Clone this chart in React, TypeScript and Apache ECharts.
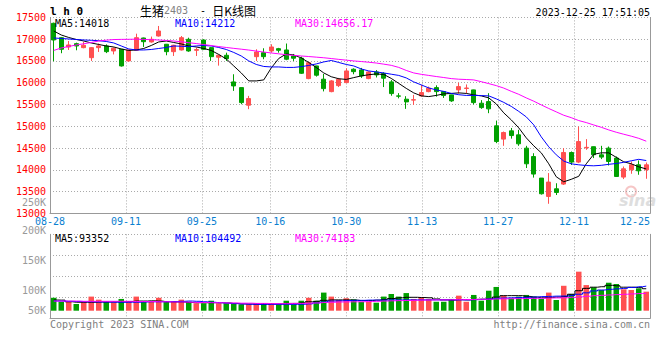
import React, { useEffect, useRef } from 'react';
import * as echarts from 'echarts';

const dates = [
  '08-28','08-29','08-30','08-31','09-01','09-04','09-05','09-06','09-07','09-08',
  '09-11','09-12','09-13','09-14','09-15','09-18','09-19','09-20','09-21','09-22',
  '09-25','09-26','09-27','09-28','10-09','10-10','10-11','10-12','10-13',
  '10-16','10-17','10-18','10-19','10-20','10-23','10-24','10-25','10-26','10-27',
  '10-30','10-31','11-01','11-02','11-03','11-06','11-07','11-08','11-09','11-10',
  '11-13','11-14','11-15','11-16','11-17','11-20','11-21','11-22','11-23','11-24',
  '11-27','11-28','11-29','11-30','12-01','12-04','12-05','12-06','12-07','12-08',
  '12-11','12-12','12-13','12-14','12-15','12-18','12-19','12-20','12-21','12-22',
  '12-25'
];

const openP = [
  17364,17034,16821,16897,16805,16575,16805,16844,16729,16768,
  16500,16745,17027,16936,17073,16883,16713,16752,16997,16745,
  16981,16805,16585,16630,16018,15887,15483,16598,16690,16729,
  16782,16752,16614,16562,16094,16385,16080,15795,15933,16002,
  16309,16293,16094,16247,16210,16018,15697,15621,15600,15697,
  15795,15887,15795,15720,15835,15868,15835,15529,15566,15009,
  14704,14894,14802,14497,14304,13809,13387,13563,13671,14396,
  14176,14505,14530,14343,14497,14268,13832,13999,14114,13999
];
const closeP = [
  16981,16768,16867,16844,16860,16805,16844,16713,16791,16385,
  16752,17034,16942,16997,17188,16713,16860,17034,16729,16760,
  16768,16598,16630,16552,15926,15543,15635,16706,16598,16821,
  16745,16539,16562,16217,16461,16172,15864,16041,16080,16270,
  16254,16156,16247,16179,16103,15750,15690,15559,15610,15773,
  15874,15795,15705,15582,15910,15878,15543,15428,15399,14648,
  14855,14786,14596,14137,13901,13449,13717,13479,14396,14176,
  14648,14515,14345,14291,14190,13846,14022,14114,13976,14114
];
const lowP = [
  16493,16677,16752,16745,16790,16500,16706,16680,16650,16370,
  16480,16740,16821,16920,17060,16630,16614,16740,16710,16614,
  16750,16500,16392,16500,15812,15506,15392,16500,16539,16690,
  16690,16517,16500,16200,16080,16140,15800,15780,15900,15990,
  16194,16110,16080,16120,15900,15700,15640,15399,15490,15681,
  15780,15680,15650,15560,15750,15760,15500,15400,15300,14611,
  14550,14715,14550,14040,13820,13430,13219,13420,13650,14110,
  14153,14458,14268,14245,14098,13840,13786,13908,13885,13793
];
const highP = [
  17380,17050,16958,16920,16940,16820,16900,16880,16810,16775,
  16760,17126,17035,17060,17303,16890,16870,17073,17034,16805,
  16995,16820,16640,16690,16194,15890,15697,16768,16791,16883,
  16800,16900,16660,16600,16480,16390,16200,16060,16110,16330,
  16330,16340,16260,16290,16240,16060,15760,15690,15720,15950,
  15910,15940,15800,15725,16000,15960,15840,15600,15759,15130,
  14878,14960,14917,14550,14380,13810,13924,13690,14497,14420,
  14993,14704,14534,14550,14534,14305,14075,14190,14213,14167
];

const ma5 = [
  17188,17096,17039,16993,16958,16913,16878,16844,16821,16775,
  16741,16752,16786,16855,16936,16958,16924,16890,16844,16821,
  16786,16741,16649,16546,16385,16224,16041,16041,16064,16339,
  16557,16660,16637,16569,16465,16350,16224,16137,16091,16075,
  16117,16156,16183,16201,16190,16098,15984,15869,15766,15697,
  15681,15708,15743,15754,15766,15754,15720,15697,15651,15513,
  15307,15146,14963,14733,14550,14389,14137,13839,13724,13781,
  13850,14137,14355,14389,14389,14286,14183,14137,14068,14018
];
const ma10 = [
  17027,17016,17004,16993,16981,16974,16965,16947,16913,16844,
  16775,16752,16752,16763,16786,16809,16844,16837,16828,16844,
  16855,16844,16809,16763,16695,16614,16500,16419,16373,16362,
  16362,16351,16351,16369,16396,16431,16477,16511,16465,16419,
  16385,16316,16270,16247,16224,16195,16167,16110,16018,15949,
  15880,15834,15800,15754,15724,15708,15708,15704,15697,15628,
  15548,15456,15341,15215,15031,14756,14527,14343,14199,14137,
  14114,14098,14091,14102,14125,14144,14171,14206,14240,14212
];
const ma30 = [
  16741,16798,16832,16867,16894,16924,16958,16977,16991,16995,
  16997,17000,16995,16988,16981,16970,16958,16940,16919,16899,
  16876,16853,16830,16809,16789,16770,16750,16727,16704,16683,
  16663,16642,16628,16614,16601,16587,16573,16555,16536,16518,
  16500,16486,16470,16452,16426,16399,16351,16282,16224,16192,
  16167,16142,16119,16094,16080,16073,16064,16023,15979,15933,
  15876,15802,15733,15651,15575,15490,15408,15330,15252,15197,
  15130,15084,15029,14976,14915,14862,14816,14772,14722,14656.17
];

const volume = [
  55000,38000,38000,28500,38000,60000,47000,38000,36000,50000,
  38000,60000,38000,38000,55000,38000,38000,47000,38000,31500,
  31500,42500,31500,31500,31500,27000,27000,31500,31500,31500,
  27000,42500,27000,42500,55000,42500,77000,60000,45500,53000,
  48500,38000,38000,34000,60000,71000,60000,75000,50000,57000,
  50000,38000,38000,50000,64000,38000,67000,42500,85000,101000,
  64000,53000,60000,67000,60000,50000,77000,45500,106000,71000,
  166000,109000,99500,88000,119000,113500,91000,88000,95000,81000
];
const volMa5 = [
  45500,45000,38000,36000,36000,36000,37000,37000,38000,38000,
  39000,41000,41000,42000,41000,38000,37000,37000,35000,34000,
  34000,34000,34000,33000,31000,29000,28500,28500,28500,29000,
  29000,31000,31000,33000,38000,40000,44000,46000,46000,46000,
  45000,43000,43000,45000,48000,52000,55000,57000,57000,56000,
  55000,50000,46000,45000,47000,46000,48000,49000,50000,58000,
  64000,64000,64000,61000,58000,55000,56000,58000,60000,70000,
  85000,95000,100000,102000,108000,106000,100000,100000,98000,93352
];
const volMa10 = [
  41000,41000,40000,39000,38000,38000,37000,37000,36000,36000,
  36000,36000,37000,38000,38000,38000,39000,40000,41000,40000,
  38000,36000,34000,32000,30000,29000,27500,27000,27000,27000,
  27000,27000,27000,27500,29000,33000,37000,41000,42000,43000,
  44000,44000,45000,45000,45000,46000,46000,46000,46000,46000,
  46000,46000,46000,46000,46000,46000,47000,48000,50000,53000,
  54000,55000,56000,57000,58000,60000,61000,62000,62500,65000,
  70000,76000,84000,88000,91000,93000,95000,99000,102000,104492
];
const volMa30 = [
  41000,41000,41000,41000,40000,40000,40000,40000,40000,40000,
  40000,39000,39000,39000,38000,38000,37000,37000,36000,35000,
  35000,34000,34000,33000,33000,32000,32000,31000,31000,30000,
  30000,30000,31000,31000,32000,33000,35000,36000,37000,37500,
  38000,38000,39000,40000,41000,42000,43000,43500,44000,45000,
  45500,46000,46000,46500,47000,47500,48000,48500,49000,50000,
  50500,51000,51500,52000,52500,53000,54000,54500,55000,57000,
  59000,61500,64000,65500,67000,68500,70000,71500,73000,74183
];

const xLabelDates = ['08-28','09-11','09-25','10-16','10-30','11-13','11-27','12-11','12-25'];
const priceMin = 13000;
const priceMax = 17500;
const priceStep = 500;
const volTickValues = [50000, 100000, 150000, 200000, 250000];
const volTickLabels = ['50K', '100K', '150K', '200K', '250K'];

const RED = '#ff5050';
const GREEN = '#00a000';
const GRIDC = '#aaaaaa';
const FRAME = '#999999';
const DATEC = '#0a80d0';
const MONO = '"DejaVu Sans Mono", monospace';
const CJK = '"Noto Sans CJK SC", sans-serif';
const DOT: number[] = [1, 2];

const last = (a: number[]) => a[a.length - 1];

function txt(x: number, y: number, text: string, fill: string, extra: any = {}) {
  return {
    type: 'text', x, y, z: 10,
    style: {
      text, fill, fontSize: 10, fontFamily: MONO,
      align: 'left', textAlign: 'left', verticalAlign: 'middle', textVerticalAlign: 'middle',
      ...extra,
    },
  };
}

export default function App() {
  const ref = useRef<HTMLDivElement>(null);
  useEffect(() => {
    if (!ref.current) return;
    const chart = echarts.init(ref.current, null, { renderer: 'svg' });
    const labelIdx = xLabelDates.map((d) => dates.indexOf(d));
    const splitIdx = labelIdx.filter((i) => i > 0 && i < dates.length - 1);
    const topVolLabel = volTickValues.length - 1;

    const option: any = {
      animation: false,
      grid: [
        { left: 50, top: 17.4, width: 600, height: 195.9, outerBoundsMode: 'none' },
        { left: 50, top: 234.3, width: 600, height: 76.4, outerBoundsMode: 'none' },
        { left: 50, top: 234.3, width: 600, height: 84, outerBoundsMode: 'none' },
        { left: 50, top: 200.7, width: 600, height: 150, outerBoundsMode: 'none' },
      ],
      xAxis: [
        { gridIndex: 0, type: 'category', data: dates, boundaryGap: true, show: false, position: 'top' },
        {
          gridIndex: 0, type: 'category', data: dates, boundaryGap: false, position: 'bottom',
          axisLine: { show: true, lineStyle: { color: FRAME, width: 1 } },
          axisTick: { show: false },
          axisLabel: {
            show: true,
            interval: (i: number) => labelIdx.includes(i),
            color: DATEC, fontSize: 10, fontFamily: MONO, margin: 5, lineHeight: 7,
            alignMinLabel: 'center', alignMaxLabel: 'right',
          },
          splitLine: {
            show: true,
            interval: (i: number) => splitIdx.includes(i),
            lineStyle: { color: GRIDC, type: DOT, width: 1 },
          },
        },
        { gridIndex: 1, type: 'category', data: dates, boundaryGap: true, show: false },
        {
          gridIndex: 2, type: 'category', data: dates, boundaryGap: false, position: 'bottom',
          axisLine: { show: true, lineStyle: { color: FRAME, width: 1 } },
          axisTick: { show: false },
          axisLabel: { show: false },
          splitLine: {
            show: true,
            interval: (i: number) => splitIdx.includes(i),
            lineStyle: { color: GRIDC, type: DOT, width: 1 },
          },
        },
        { gridIndex: 3, type: 'category', data: dates, show: false },
      ],
      yAxis: [
        {
          gridIndex: 0, type: 'value', position: 'left', min: priceMin, max: priceMax, interval: priceStep,
          axisLine: { show: true, lineStyle: { color: FRAME, width: 1 } },
          axisTick: { show: false },
          axisLabel: {
            color: '#ff0000', fontSize: 10, fontFamily: MONO, margin: 4,
            lineHeight: 7, padding: [0, 0, 2, 0],
            formatter: (v: number) => String(v),
          },
          splitLine: { show: true, lineStyle: { color: GRIDC, type: DOT, width: 1 } },
        },
        {
          gridIndex: 0, type: 'value', position: 'right', min: priceMin, max: priceMax, interval: priceStep,
          axisLine: { show: true, lineStyle: { color: FRAME, width: 1 } },
          axisTick: { show: false }, axisLabel: { show: false }, splitLine: { show: false },
        },
        { gridIndex: 1, type: 'value', min: 0, max: 325000, show: false, splitLine: { show: false } },
        {
          gridIndex: 2, type: 'value', position: 'left', min: 0, max: 4, interval: 1,
          axisLine: { show: true, lineStyle: { color: FRAME, width: 1 } },
          axisTick: { show: false }, axisLabel: { show: false },
          splitLine: { show: true, lineStyle: { color: GRIDC, type: DOT, width: 1 } },
        },
        {
          gridIndex: 2, type: 'value', position: 'right', min: 0, max: 4, interval: 1,
          axisLine: { show: true, lineStyle: { color: FRAME, width: 1 } },
          axisTick: { show: false }, axisLabel: { show: false }, splitLine: { show: false },
        },
        {
          gridIndex: 3, type: 'value', position: 'left', min: 0, max: 250000, interval: 50000,
          axisLine: { show: false }, axisTick: { show: false }, splitLine: { show: false },
          axisLabel: {
            color: '#999999', fontSize: 10, fontFamily: MONO, margin: 4, lineHeight: 7,
            formatter: (v: number) => {
              const k = volTickValues.indexOf(v);
              if (k < 0) return '';
              if (k === 0) return `{lo|${volTickLabels[k]}}`;
              if (k === topVolLabel) return `{hi|${volTickLabels[k]}}`;
              return volTickLabels[k];
            },
            rich: {
              lo: { color: '#999999', fontSize: 10, fontFamily: MONO, lineHeight: 7, padding: [0, 0, 21, 0] },
              hi: { color: '#999999', fontSize: 10, fontFamily: MONO, lineHeight: 7, padding: [4, 0, 0, 0] },
            },
          },
        },
      ],
      series: [
        {
          type: 'candlestick', xAxisIndex: 0, yAxisIndex: 0, barWidth: 4.7,
          data: openP.map((o, i) => [o, closeP[i], lowP[i], highP[i]]),
          itemStyle: { color: RED, color0: GREEN, borderColor: RED, borderColor0: GREEN, borderWidth: 1 },
          z: 2, silent: true,
        },
        { type: 'line', xAxisIndex: 0, yAxisIndex: 0, data: ma5, symbol: 'none', lineStyle: { color: '#000000', width: 1 }, z: 3, silent: true },
        { type: 'line', xAxisIndex: 0, yAxisIndex: 0, data: ma10, symbol: 'none', lineStyle: { color: '#0000ff', width: 1 }, z: 3, silent: true },
        { type: 'line', xAxisIndex: 0, yAxisIndex: 0, data: ma30, symbol: 'none', lineStyle: { color: '#ff00ff', width: 1 }, z: 3, silent: true },
        {
          type: 'bar', xAxisIndex: 2, yAxisIndex: 2, barWidth: 5.5, silent: true,
          data: volume.map((v, i) => ({ value: v, itemStyle: { color: closeP[i] >= openP[i] ? RED : GREEN } })),
        },
        { type: 'line', xAxisIndex: 2, yAxisIndex: 2, data: volMa5, step: 'middle', symbol: 'none', lineStyle: { color: '#000000', width: 1 }, z: 3, silent: true },
        { type: 'line', xAxisIndex: 2, yAxisIndex: 2, data: volMa10, step: 'middle', symbol: 'none', lineStyle: { color: '#0000ff', width: 1 }, z: 3, silent: true },
        { type: 'line', xAxisIndex: 2, yAxisIndex: 2, data: volMa30, step: 'middle', symbol: 'none', lineStyle: { color: '#ff00ff', width: 1 }, z: 3, silent: true },
      ],
      graphic: [
        {
          type: 'circle', z: 0, shape: { cx: 631, cy: 191.5, r: 5 },
          style: { fill: 'none', stroke: '#f6c6c6', lineWidth: 2 }, silent: true,
        },
        {
          type: 'text', x: 619, y: 200, z: 0, silent: true,
          style: {
            text: 'sina', fill: '#dedede', fontSize: 16, fontWeight: 'bold', fontStyle: 'italic',
            fontFamily: '"DejaVu Sans", sans-serif',
            align: 'left', textAlign: 'left', verticalAlign: 'middle', textVerticalAlign: 'middle',
          },
        },
        txt(50, 11, 'l h 0', '#000000', { fontSize: 11, fontWeight: 'bold' }),
        {
          type: 'text', x: 140, y: 10, z: 10,
          style: {
            text: '{a|生猪}{g|2403}{m|  - }{a|日K线图}',
            align: 'left', textAlign: 'left', verticalAlign: 'middle', textVerticalAlign: 'middle',
            rich: {
              a: { fontSize: 12, fontFamily: CJK, fill: '#000000', color: '#000000' },
              g: { fontSize: 10, fontFamily: MONO, fill: '#808080', color: '#808080' },
              m: { fontSize: 10, fontFamily: MONO, fill: '#000000', color: '#000000' },
            },
          },
        },
        txt(650, 12, '2023-12-25 17:51:05', '#000000', { align: 'right', textAlign: 'right' }),
        txt(55, 23, `MA5:${last(ma5)}`, '#000000'),
        txt(175, 23, `MA10:${last(ma10)}`, '#0000ff'),
        txt(295, 23, `MA30:${last(ma30)}`, '#ff00ff'),
        txt(55, 238.5, `MA5:${last(volMa5)}`, '#000000'),
        txt(175, 238.5, `MA10:${last(volMa10)}`, '#0000ff'),
        txt(295, 238.5, `MA30:${last(volMa30)}`, '#ff00ff'),
        txt(50, 324, 'Copyright 2023 SINA.COM', '#808080'),
        txt(650, 324, 'http://finance.sina.com.cn', '#808080', { align: 'right', textAlign: 'right' }),
      ],
    };
    chart.setOption(option);
    return () => chart.dispose();
  }, []);
  return (
    <div
      ref={ref}
      style={{ position: 'fixed', left: 0, top: 0, width: 660, height: 360, background: '#ffffff' }}
    />
  );
}
